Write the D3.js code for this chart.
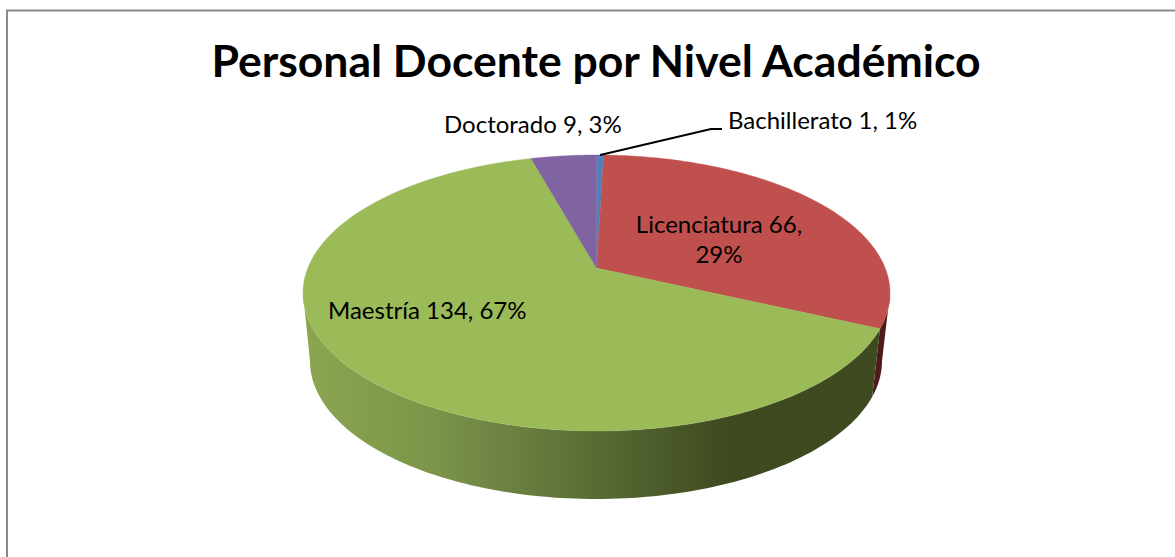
<!DOCTYPE html>
<html><head><meta charset="utf-8">
<script src="https://cdn.jsdelivr.net/npm/d3@7/dist/d3.min.js"></script>
<style>html,body{margin:0;padding:0;background:#fff;overflow:hidden}svg{display:block}</style>
</head><body><svg id="c" width="1175" height="557"></svg>
<script>
const titleText = "Personal Docente por Nivel Académico";
const categories = ["Bachillerato", "Licenciatura", "Maestría", "Doctorado"];
const values = [1, 66, 134, 9];
const percents = ["1%", "29%", "67%", "3%"];
const topColors = ["#4f81bd", "#c0504d", "#9bbb59", "#8064a2"];
const sideColors = ["#2a4565", "#4f1a1a", "url(#greenSide)", "#44355a"];
const gradientStops = [[0, "#8ca551"], [0.2, "#7d974a"], [0.33, "#6f8443"], [0.5, "#596b34"], [0.72, "#3e4a20"], [1, "#3e4a20"]];

const svg = d3.select("#c");
const W = 1175, H = 557;
svg.append("rect").attr("width", W).attr("height", H).attr("fill", "#fff");

// chart frame (left and top edges are all that show)
svg.append("path").attr("d", "M7,557V10.5H1175").attr("fill", "none").attr("stroke", "#8a8a8a").attr("stroke-width", 2);

const defs = svg.append("defs");
const grad = defs.append("linearGradient").attr("id", "greenSide")
  .attr("gradientUnits", "userSpaceOnUse").attr("x1", 305).attr("x2", 890).attr("y1", 0).attr("y2", 0);
grad.selectAll("stop").data(gradientStops).join("stop")
  .attr("offset", d => d[0]).attr("stop-color", d => d[1]);

// scales from the unit disc to the top face and the lower rim
const topX = d3.scaleLinear().domain([-1, 1]).range([303, 890]);
const topY = d3.scaleLinear().domain([-1, 1]).range([155, 431]);
const botX = d3.scaleLinear().domain([-1, 1]).range([310, 882]);
const botY = d3.scaleLinear().domain([-1, 1]).range([223, 499]);
const tilt = -0.181;
function disc(theta, r = 1) {
  const x = r * Math.sin(theta), y = -r * Math.cos(theta);
  const w = 1 + tilt * y;
  return [x * Math.sqrt(1 - tilt * tilt) / w, (y + tilt) / w];
}
const onTop = (t, r) => { const p = disc(t, r); return [topX(p[0]), topY(p[1])]; };
const onBot = (t, r) => { const p = disc(t, r); return [botX(p[0]), botY(p[1])]; };
const line = d3.line();
const steps = (a, b) => d3.range(0, 121).map(i => a + (b - a) * i / 120);

const pieData = d3.pie().sort(null).startAngle(0).endAngle(2 * Math.PI)(values);

// the rim faces the viewer between the two silhouette angles of the disc
const frontStart = Math.acos(tilt), frontEnd = 2 * Math.PI - frontStart;
const sides = svg.append("g");
pieData.forEach((d, i) => {
  const a = Math.max(d.startAngle, frontStart), b = Math.min(d.endAngle, frontEnd);
  if (b <= a) return;
  const ts = steps(a, b);
  const pts = ts.map(t => onTop(t)).concat(ts.slice().reverse().map(t => onBot(t)));
  sides.append("path").attr("d", line(pts) + "Z").attr("fill", sideColors[i]);
});

// top face
svg.append("g").selectAll("path").data(pieData).join("path")
  .attr("d", d => line([onTop(0, 0)].concat(steps(d.startAngle, d.endAngle).map(t => onTop(t)))) + "Z")
  .attr("fill", (d, i) => topColors[i])
  .attr("stroke", (d, i) => topColors[i]).attr("stroke-width", 0.4);

// leader line of the smallest slice
const lead = onTop((pieData[0].startAngle + pieData[0].endAngle) / 2);
svg.append("path").attr("d", line([lead, [711, 129], [722, 129]]))
  .attr("fill", "none").attr("stroke", "#000").attr("stroke-width", 2);

// labels
const font = "Lato, Carlito, sans-serif";
svg.append("text").attr("x", 596).attr("y", 77).attr("text-anchor", "middle")
  .attr("font-family", font).attr("font-weight", 700).attr("font-size", 44.5).attr("fill", "#000").text(titleText);
const lab = (s, x, y, anchor) => svg.append("text").attr("x", x).attr("y", y).attr("text-anchor", anchor || "start")
  .attr("font-family", font).attr("font-size", 24).attr("fill", "#000").text(s);
const txt = i => `${categories[i]} ${values[i]}, ${percents[i]}`;
lab(txt(3), 444, 133);
lab(txt(0), 728, 129);
lab(`${categories[1]} ${values[1]},`, 719, 233, "middle");
lab(percents[1], 719, 263, "middle");
lab(txt(2), 328, 319);
</script></body></html>
